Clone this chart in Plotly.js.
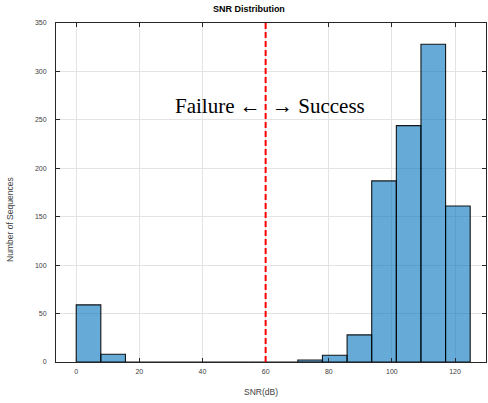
<!DOCTYPE html>
<html>
<head>
<meta charset="utf-8">
<script src="https://cdn.plot.ly/plotly-3.0.1.min.js"></script>
<style>html,body{margin:0;padding:0;background:#fff}#chart{width:488px;height:403px}</style>
</head>
<body>
<div id="chart"></div>
<script>
// Histogram bin edges (SNR, dB) and counts per bin
const binEdges = [0, 7.8, 15.6, 23.4, 31.2, 39.0, 46.8, 54.6, 62.4, 70.2, 78.0, 85.8, 93.6, 101.4, 109.2, 117.0, 124.8];
const counts   = [59, 8, 0, 0, 0, 0, 0, 0, 0, 2, 7, 28, 187, 244, 328, 161];
const threshold = 60;
const xTicks = [0, 20, 40, 60, 80, 100, 120];
const yTicks = [0, 50, 100, 150, 200, 250, 300, 350];
const titleText = 'SNR Distribution';
const xLabel = 'SNR(dB)';
const yLabel = 'Number of Sequences';
const leftText = 'Failure \u2190';
const rightText = '\u2192 Success';

const centers = counts.map((_, i) => (binEdges[i] + binEdges[i + 1]) / 2);
const widths = counts.map((_, i) => binEdges[i + 1] - binEdges[i]);

const axisColor = '#262626';
const tickFont = {family: 'Liberation Sans, Arial, sans-serif', size: 7, color: '#404040'};
const labelFont = {family: 'Liberation Sans, Arial, sans-serif', size: 8.5, color: '#404040'};
const serif = {family: 'Liberation Serif, Times New Roman, serif', size: 21, color: '#000'};

const trace = {
  type: 'bar',
  x: centers,
  y: counts,
  width: widths,
  marker: {color: 'rgba(0,114,189,0.6)', line: {color: 'rgba(0,0,0,0.9)', width: 1.1}},
  hoverinfo: 'x+y'
};

const layout = {
  width: 488, height: 403,
  margin: {l: 56, r: 2, t: 23, b: 41, pad: 0},
  paper_bgcolor: '#fff', plot_bgcolor: '#fff',
  showlegend: false,
  bargap: 0,
  title: {text: '<b>' + titleText + '</b>', font: {family: 'Liberation Sans, Arial, sans-serif', size: 9, color: '#000'},
          xref: 'container', x: 0.51, xanchor: 'center', yref: 'container', y: 0.985, yanchor: 'top'},
  xaxis: {
    range: [-6.4, 129.8], tickvals: xTicks, ticktext: xTicks.map(String),
    showgrid: true, gridcolor: '#e3e3e3', gridwidth: 1, zeroline: false,
    showline: true, linecolor: axisColor, linewidth: 1, mirror: 'ticks',
    ticks: 'inside', ticklen: 4, tickcolor: axisColor, tickwidth: 1,
    tickfont: tickFont, ticklabelstandoff: 3
  },
  yaxis: {
    range: [0, 350], tickvals: yTicks, ticktext: yTicks.map(String),
    showgrid: true, gridcolor: '#e3e3e3', gridwidth: 1, zeroline: false,
    showline: true, linecolor: axisColor, linewidth: 1, mirror: 'ticks',
    ticks: 'inside', ticklen: 4, tickcolor: axisColor, tickwidth: 1,
    tickfont: tickFont, ticklabelstandoff: 7
  },
  shapes: [{
    type: 'line', xref: 'x', yref: 'paper', x0: threshold, x1: threshold, y0: 0, y1: 1,
    line: {color: '#ff0000', width: 2, dash: '6px,3px'}
  }],
  annotations: [
    {text: leftText, xref: 'x', yref: 'paper', x: threshold, y: 0.755, xanchor: 'right', yanchor: 'middle',
     xshift: -3, showarrow: false, font: serif},
    {text: rightText, xref: 'x', yref: 'paper', x: threshold, y: 0.755, xanchor: 'left', yanchor: 'middle',
     xshift: 4, showarrow: false, font: serif},
    {text: xLabel, xref: 'paper', yref: 'paper', x: 0.477, y: -0.088,
     xanchor: 'center', yanchor: 'middle', showarrow: false, font: labelFont},
    {text: yLabel, xref: 'paper', yref: 'paper', x: -0.107, y: 0.422,
     xanchor: 'center', yanchor: 'middle', textangle: -90, showarrow: false, font: labelFont}
  ]
};

Plotly.newPlot('chart', [trace], layout, {displayModeBar: false, staticPlot: true});
</script>
</body>
</html>
